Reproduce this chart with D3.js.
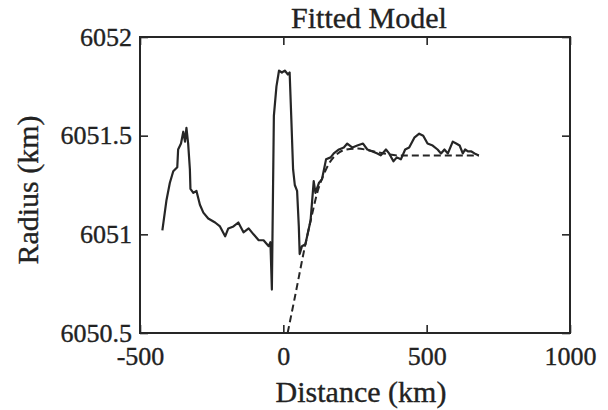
<!DOCTYPE html>
<html>
<head>
<meta charset="utf-8">
<script src="https://cdn.jsdelivr.net/npm/d3@7"></script>
<style>
  body { margin: 0; background: #fff; }
  text { font-family: "Liberation Serif", "Times New Roman", serif; fill: #222; stroke: #222; stroke-width: 0.35px; }
</style>
</head>
<body>
<svg id="chart" width="608" height="410"></svg>
<script>
// Observed topographic profile across the feature
const distanceKm = [-422, -408, -396, -384, -370, -367, -357, -349, -343, -338, -332, -326, -324, -314, -303,
  -291, -279, -262, -238, -221, -203, -192, -174, -157, -139, -121, -104, -86, -69, -51, -45, -40, -33, -24,
  -15, -5, 5, 16, 22, 28, 34, 40, 48, 54, 57, 65, 77, 95, 106, 112, 124, 135, 149, 165, 176, 194, 211, 223,
  241, 258, 278, 293, 311, 328, 340, 358, 369, 384, 396, 410, 425, 439, 457, 474, 488, 503, 521, 538, 550,
  562, 574, 591, 603, 615, 626, 634, 644, 656, 667, 682];
const radiusKm = [6051.02, 6051.17, 6051.26, 6051.32, 6051.34, 6051.43, 6051.46, 6051.52, 6051.47, 6051.54,
  6051.46, 6051.33, 6051.23, 6051.21, 6051.22, 6051.15, 6051.11, 6051.08, 6051.06, 6051.04, 6050.99, 6051.03,
  6051.04, 6051.06, 6051.01, 6051.03, 6051.00, 6050.97, 6050.97, 6050.94, 6050.96, 6050.72, 6051.60, 6051.75,
  6051.83, 6051.82, 6051.83, 6051.81, 6051.82, 6051.58, 6051.33, 6051.25, 6051.22, 6051.04, 6050.90, 6050.94,
  6050.95, 6051.07, 6051.27, 6051.21, 6051.26, 6051.28, 6051.38, 6051.39, 6051.41, 6051.43, 6051.44, 6051.46,
  6051.44, 6051.45, 6051.46, 6051.43, 6051.42, 6051.41, 6051.40, 6051.43, 6051.41, 6051.37, 6051.39, 6051.38,
  6051.43, 6051.44, 6051.49, 6051.51, 6051.50, 6051.46, 6051.45, 6051.43, 6051.41, 6051.43, 6051.41, 6051.47,
  6051.46, 6051.45, 6051.41, 6051.43, 6051.42, 6051.42, 6051.41, 6051.40];

// Fitted model profile (dashed)
const modelDistanceKm = [15, 40, 77, 100, 120, 140, 160, 190, 220, 260, 300, 350, 400, 450, 682];
const modelRadiusKm = [6050.5, 6050.68, 6050.95, 6051.10, 6051.22, 6051.30, 6051.36, 6051.41, 6051.43,
  6051.435, 6051.425, 6051.41, 6051.40, 6051.40, 6051.40];

const xTicks = [-500, 0, 500, 1000];
const xTickLabels = ["-500", "0", "500", "1000"];
const yTicks = [6050.5, 6051, 6051.5, 6052];
const yTickLabels = ["6050.5", "6051", "6051.5", "6052"];

const W = 608, H = 410;
const margin = { top: 37, right: 38, bottom: 77, left: 140 };
const iw = W - margin.left - margin.right;
const ih = H - margin.top - margin.bottom;

const svg = d3.select("#chart");
const g = svg.append("g").attr("transform", `translate(${margin.left},${margin.top})`);

const x = d3.scaleLinear().domain([-500, 1000]).range([0, iw]);
const y = d3.scaleLinear().domain([6050.5, 6052]).range([ih, 0]);

const ink = "#262626";
const tickLen = 8;

// Axes with inward ticks
const styleAxis = sel => {
  sel.select(".domain").remove();
  sel.selectAll(".tick line").attr("stroke", ink).attr("stroke-width", 1.6);
  sel.selectAll(".tick text").attr("fill", ink).style("font-size", "26px")
    .style("font-family", '"Liberation Serif", "Times New Roman", serif');
};

g.append("g").attr("transform", `translate(0,${ih})`)
  .call(d3.axisBottom(x).tickValues(xTicks).tickSizeInner(-tickLen).tickSizeOuter(0).tickPadding(14)
    .tickFormat((d, i) => xTickLabels[i]))
  .call(styleAxis);

g.append("g")
  .call(d3.axisTop(x).tickValues(xTicks).tickSizeInner(-tickLen).tickSizeOuter(0).tickFormat(""))
  .call(styleAxis);

g.append("g")
  .call(d3.axisLeft(y).tickValues(yTicks).tickSizeInner(-tickLen).tickSizeOuter(0).tickPadding(8)
    .tickFormat((d, i) => yTickLabels[i]))
  .call(styleAxis);

g.append("g").attr("transform", `translate(${iw},0)`)
  .call(d3.axisRight(y).tickValues(yTicks).tickSizeInner(-tickLen).tickSizeOuter(0).tickFormat(""))
  .call(styleAxis);

// Plot frame
g.append("rect").attr("x", 0).attr("y", 0).attr("width", iw).attr("height", ih)
  .attr("fill", "none").attr("stroke", ink).attr("stroke-width", 2);

// Model (dashed)
const modelLine = d3.line().x(d => x(d[0])).y(d => y(d[1])).curve(d3.curveMonotoneX);
g.append("path")
  .datum(d3.zip(modelDistanceKm, modelRadiusKm))
  .attr("d", modelLine)
  .attr("fill", "none").attr("stroke", ink).attr("stroke-width", 2)
  .attr("stroke-dasharray", "7,4");

// Observed profile (solid)
const dataLine = d3.line().x(d => x(d[0])).y(d => y(d[1]));
g.append("path")
  .datum(d3.zip(distanceKm, radiusKm))
  .attr("d", dataLine)
  .attr("fill", "none").attr("stroke", ink).attr("stroke-width", 2.2)
  .attr("stroke-linejoin", "round");

// Titles
svg.append("text").attr("x", margin.left + iw / 2 + 14).attr("y", 28)
  .attr("text-anchor", "middle").style("font-size", "30px").text("Fitted Model");

svg.append("text").attr("x", margin.left + iw / 2 + 6).attr("y", 402)
  .attr("text-anchor", "middle").style("font-size", "30px").text("Distance (km)");

svg.append("text")
  .attr("transform", `translate(38,${margin.top + ih / 2 + 5}) rotate(-90)`)
  .attr("text-anchor", "middle").style("font-size", "30px").text("Radius (km)");
</script>
</body>
</html>
